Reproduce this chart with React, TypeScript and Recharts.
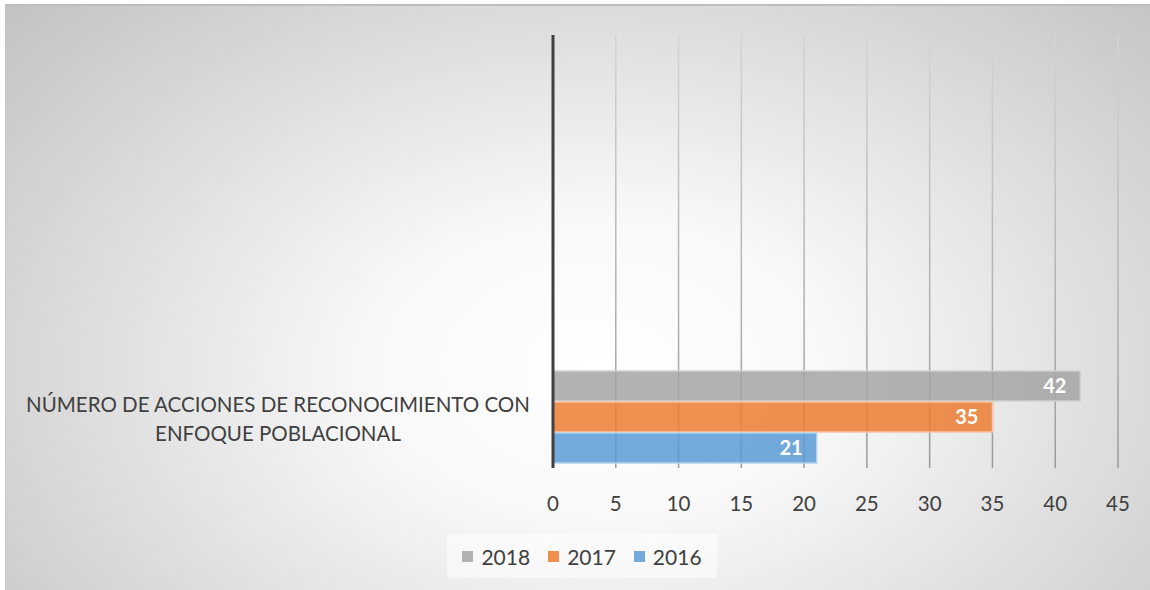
import React from 'react'
import { BarChart, Bar, XAxis, YAxis, CartesianGrid, LabelList } from 'recharts'

const categories = ['NÚMERO DE ACCIONES DE RECONOCIMIENTO CON ENFOQUE POBLACIONAL']
const values2018 = [42]
const values2017 = [35]
const values2016 = [21]
const xTicks = [0, 5, 10, 15, 20, 25, 30, 35, 40, 45]
const categoryLines = ['NÚMERO DE ACCIONES DE RECONOCIMIENTO CON', 'ENFOQUE POBLACIONAL']

const series = [
    { key: 'y2018', name: '2018', color: '#A5A5A5', edge: '#d0d0d0' },
    { key: 'y2017', name: '2017', color: '#ED7D31', edge: '#f5c4a2' },
    { key: 'y2016', name: '2016', color: '#5B9BD5', edge: '#b5d2ee' },
]

const data = categories.map((name, i) => ({
    name,
    y2018: values2018[i],
    y2017: values2017[i],
    y2016: values2016[i],
}))

const FONT = 'Lato, "Open Sans", sans-serif'
const TEXT = '#404040'

function CategoryTick({ y }: any) {
    return (
        <text x={272} y={y} textAnchor="middle" fontFamily={FONT} fontSize={20.5} fill={TEXT}>
            {categoryLines.map((line, i) => (
                <tspan key={i} x={272} dy={i === 0 ? -5 : 29}>{line}</tspan>
            ))}
        </text>
    )
}

export default function App() {
    return (
        <div style={{ position: 'fixed', left: 0, top: 0, width: 1150, height: 590, background: '#fff', overflow: 'hidden' }}>
            <div style={{
                position: 'absolute', left: 5, top: 4, width: 1145, height: 586,
                borderTop: '2px solid #bdbdbd', borderLeft: '1px solid #c8c8c8', boxSizing: 'border-box',
                background: 'radial-gradient(ellipse 72% 95% at 52% 62%, #ffffff 0%, #f8f8f8 28%, #c0c0c0 100%)',
            }}>
                <BarChart
                    width={1144}
                    height={584}
                    data={data}
                    layout="vertical"
                    margin={{ top: 29, right: 32, bottom: 72, left: 0 }}
                    barSize={30}
                    barGap={1}
                >
                    <defs>
                        <linearGradient id="gridFade" x1="0" y1="30" x2="0" y2="462" gradientUnits="userSpaceOnUse">
                            <stop offset="0%" stopColor="#d4d4d4" />
                            <stop offset="100%" stopColor="#9a9a9a" />
                        </linearGradient>
                    </defs>
                    <CartesianGrid horizontal={false} stroke="url(#gridFade)" strokeWidth={1.5} />
                    <XAxis
                        type="number"
                        domain={[0, 45]}
                        ticks={xTicks}
                        axisLine={false}
                        tickLine={false}
                        tickMargin={22}
                        height={50}
                        tick={{ fontSize: 20.5, fill: TEXT, fontFamily: FONT }}
                        interval={0}
                    />
                    <YAxis
                        type="category"
                        dataKey="name"
                        width={547}
                        padding={{ top: 330, bottom: 0 }}
                        axisLine={{ stroke: '#404040', strokeWidth: 3 }}
                        tickLine={false}
                        tick={<CategoryTick />}
                    />
                    {series.map(s => (
                        <Bar key={s.key} dataKey={s.key} name={s.name} fill={s.color} fillOpacity={0.85}
                            stroke={s.edge} strokeWidth={1.5} isAnimationActive={false}>
                            <LabelList dataKey={s.key} position="insideRight" offset={14} fill="#fff"
                                fontSize={20} fontWeight="bold" fontFamily={FONT} />
                        </Bar>
                    ))}
                </BarChart>
            </div>
            <div style={{
                position: 'absolute', left: 447, top: 534, width: 270, height: 44,
                display: 'flex', alignItems: 'center', justifyContent: 'center',
                background: 'rgba(255,255,255,0.5)', fontFamily: FONT, fontSize: 21, color: TEXT,
            }}>
                {series.map(s => (
                    <span key={s.key} style={{ display: 'flex', alignItems: 'center', margin: '0 9px' }}>
                        <span style={{ width: 11, height: 11, background: s.color, opacity: 0.85, marginRight: 8 }} />
                        {s.name}
                    </span>
                ))}
            </div>
        </div>
    )
}
